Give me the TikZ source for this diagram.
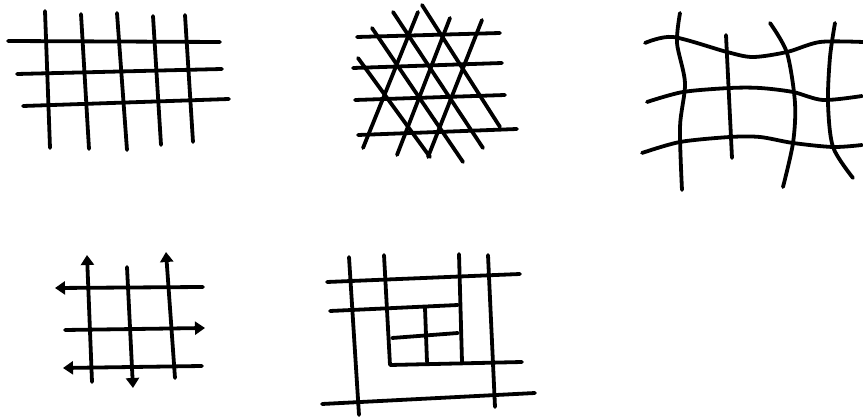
\documentclass[tikz,border=0pt]{standalone}
\usepackage{tikz}
\usetikzlibrary{arrows.meta}

\begin{document}
\begin{tikzpicture}[x=1pt, y=-1pt,
    stroke/.style={draw=black, line width=3.8pt, line cap=round, line join=round},
    tip/.style={-{Triangle[length=10pt, width=13pt]}}]

    \useasboundingbox (0,0) rectangle (863,419);

    % Square grid
    \draw [stroke] (8,41) -- (220,42);
    \draw [stroke] (17,74) -- (222,69);
    \draw [stroke] (23,106) -- (229,99);
    \draw [stroke] (45,11) -- (50,148);
    \draw [stroke] (81,14) -- (89,149);
    \draw [stroke] (117,13) -- (127,150);
    \draw [stroke] (153,16) -- (161,145);
    \draw [stroke] (185,15) -- (193,142);

    % Triangular grid
    \draw [stroke] (357,37) -- (500,33);
    \draw [stroke] (353,68) -- (502,63);
    \draw [stroke] (355,100) -- (505,95);
    \draw [stroke] (358,135) -- (517,129);
    \draw [stroke] (393,12) -- (483,148);
    \draw [stroke] (422,5) -- (500,127);
    \draw [stroke] (372,28) -- (463,162);
    \draw [stroke] (358,58) -- (430,157);
    \draw [stroke] (418,12) -- (363,148);
    \draw [stroke] (450,18) -- (397,155);
    \draw [stroke] (482,20) -- (428,157);

    % Curvilinear grid
    \draw [stroke] plot [smooth] coordinates {(645,43) (673,37) (727,52) (753,57) (787,52) (820,42) (863,42)};
    \draw [stroke] plot [smooth] coordinates {(647,102) (683,92) (730,88) (760,88) (793,92) (823,100) (862,96)};
    \draw [stroke] plot [smooth] coordinates {(642,153) (680,142) (730,137) (760,137) (793,143) (833,147) (862,145)};
    \draw [stroke] plot [smooth] coordinates {(680,13) (677,43) (685,83) (680,127) (682,190)};
    \draw [stroke] (726,35) -- (732,158);
    \draw [stroke] plot [smooth] coordinates {(770,23) (787,53) (795,103) (793,143) (783,187)};
    \draw [stroke] plot [smooth] coordinates {(835,23) (830,57) (828,103) (833,147) (853,178)};

    % Open grid
    \draw [stroke, tip] (203,287) -- (55,288);
    \draw [stroke, tip] (65,330) -- (205,328);
    \draw [stroke, tip] (202,366) -- (63,368);
    \draw [stroke, tip] (92,382) -- (87,255);
    \draw [stroke, tip] (127,267) -- (133,388);
    \draw [stroke, tip] (175,378) -- (166,252);

    % Nested grid
    \draw [stroke] (327,282) -- (520,274);
    \draw [stroke] (330,311) -- (458,305);
    \draw [stroke] (392,338) -- (458,333);
    \draw [stroke] (384,255) -- (390,365) -- (522,362);
    \draw [stroke] (322,404) -- (535,393);
    \draw [stroke] (349,257) -- (359,415);
    \draw [stroke] (459,254) -- (462,362);
    \draw [stroke] (425,308) -- (427,362);
    \draw [stroke] (488,255) -- (495,407);

\end{tikzpicture}
\end{document}
